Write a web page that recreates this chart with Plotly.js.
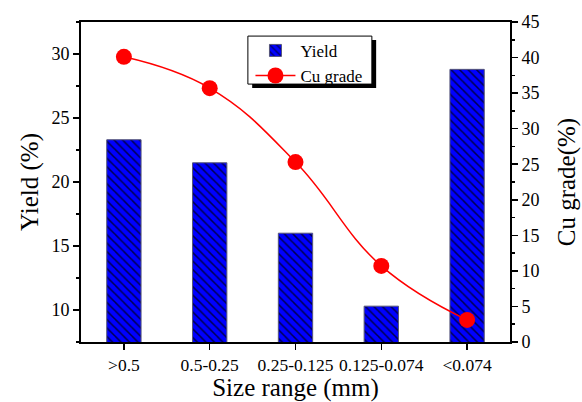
<!DOCTYPE html>
<html>
<head>
<meta charset="utf-8">
<script src="https://cdn.plot.ly/plotly-3.0.1.min.js"></script>
<style>html,body{margin:0;padding:0;background:#fff;}#chart{width:582px;height:402px;}</style>
</head>
<body>
<div id="chart"></div>
<script>
const categories = [">0.5", "0.5-0.25", "0.25-0.125", "0.125-0.074", "<0.074"];
const yieldValues = [23.3, 21.5, 16.0, 10.3, 28.8];
const cuGrade = [40.1, 35.7, 25.3, 10.7, 3.1];
const yieldTicks = [10, 15, 20, 25, 30];
const cuTicks = [0, 5, 10, 15, 20, 25, 30, 35, 40, 45];

const FONT = "Liberation Serif";

const traces = [
  {
    type: "bar",
    name: "Yield",
    x: categories,
    y: yieldValues,
    width: 0.4,
    base: 0,
    marker: {
      color: "#0000ff",
      line: {color: "#555577", width: 1},
      pattern: {shape: "\\", fgcolor: "#000050", bgcolor: "#0000ff", size: 6, solidity: 0.25}
    },
    yaxis: "y"
  },
  {
    type: "scatter",
    mode: "lines+markers",
    name: "Cu grade",
    x: categories,
    y: cuGrade,
    line: {color: "#ff0000", width: 1.5, shape: "spline", smoothing: 1.2},
    marker: {color: "#ff0000", size: 16, symbol: "circle"},
    yaxis: "y2"
  }
];

const layout = {
  width: 582,
  height: 402,
  margin: {l: 81, r: 72, t: 22, b: 60},
  paper_bgcolor: "#ffffff",
  plot_bgcolor: "#ffffff",
  font: {family: FONT, color: "#000", size: 17},
  showlegend: true,
  legend: {
    x: 0.395, y: 0.966, xanchor: "left", yanchor: "top",
    bgcolor: "rgba(0,0,0,0)", borderwidth: 0,
    font: {family: FONT, size: 17},
    tracegroupgap: 0, itemwidth: 40
  },
  xaxis: {
    type: "category",
    range: [-0.5, 4.5],
    showline: true, linecolor: "#000", linewidth: 2, mirror: true,
    ticks: "outside", ticklen: 6, tickwidth: 1.5, tickcolor: "#000",
    tickfont: {family: FONT, size: 17.5},
    title: {text: "Size range (mm)", font: {family: FONT, size: 25}, standoff: 4},
    showgrid: false, zeroline: false
  },
  yaxis: {
    range: [7.5, 32.5],
    tickvals: yieldTicks,
    showline: true, linecolor: "#000", linewidth: 2,
    ticks: "outside", ticklen: 6, tickwidth: 1.5, tickcolor: "#000",
    minor: {dtick: 2.5, ticks: "outside", ticklen: 3, tickwidth: 1.5, tickcolor: "#000", showgrid: false},
    tickfont: {family: FONT, size: 18},
    title: {text: "Yield (%)", font: {family: FONT, size: 25}, standoff: 6},
    showgrid: false, zeroline: false
  },
  yaxis2: {
    overlaying: "y",
    side: "right",
    range: [0, 45],
    tickvals: cuTicks,
    showline: true, linecolor: "#000", linewidth: 2,
    ticks: "outside", ticklen: 6, tickwidth: 1.5, tickcolor: "#000",
    minor: {dtick: 2.5, ticks: "outside", ticklen: 3, tickwidth: 1.5, tickcolor: "#000", showgrid: false},
    tickfont: {family: FONT, size: 18},
    title: {text: "Cu grade(%)", font: {family: FONT, size: 25}, standoff: 19},
    showgrid: false, zeroline: false
  },
  shapes: [
    {type: "rect", xref: "paper", yref: "paper", layer: "above",
     x0: 0.399, x1: 0.688, y0: 0.794, y1: 0.944,
     fillcolor: "#000", line: {width: 0}},
    {type: "rect", xref: "paper", yref: "paper", layer: "above",
     x0: 0.389, x1: 0.678, y0: 0.806, y1: 0.956,
     fillcolor: "#fff", line: {width: 1, color: "#000"}}
  ]
};

Plotly.newPlot("chart", traces, layout, {staticPlot: true});
</script>
</body>
</html>
